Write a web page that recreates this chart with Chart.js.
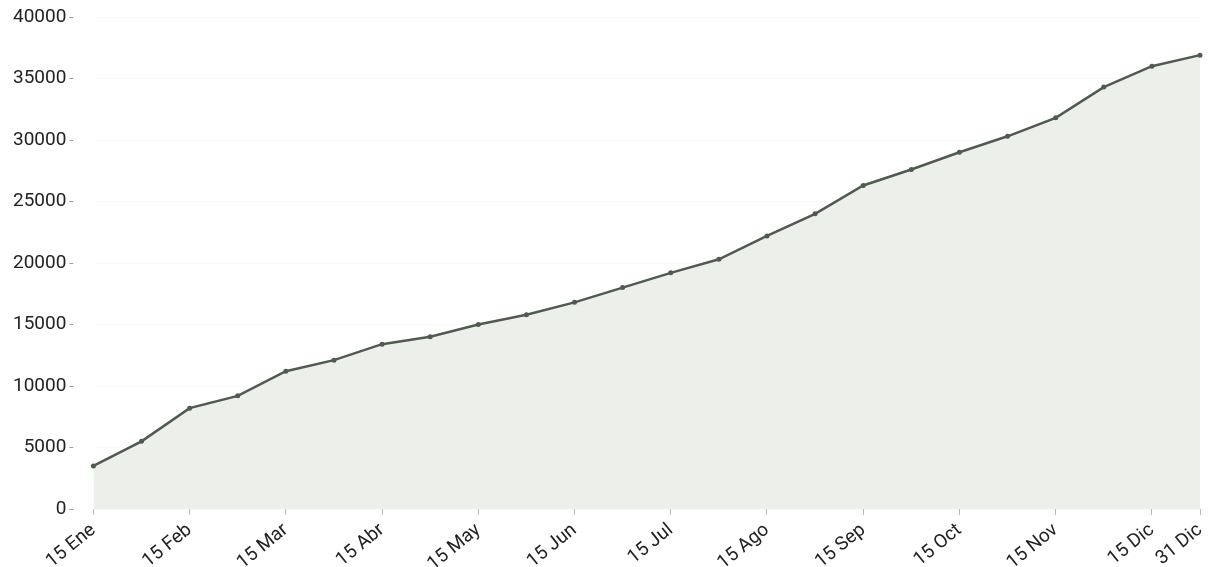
<!DOCTYPE html>
<html>
<head>
<meta charset="utf-8">
<script src="https://cdn.jsdelivr.net/npm/chart.js@4/dist/chart.umd.min.js"></script>
<style>
  html, body { margin: 0; padding: 0; background: #fff; }
  #wrap { width: 1210px; height: 567px; }
</style>
</head>
<body>
<div id="wrap"><canvas id="totalChart"></canvas></div>
<script>
const fechas = [
  "15 Ene", "31 Ene", "15 Feb", "28 Feb", "15 Mar", "31 Mar",
  "15 Abr", "30 Abr", "15 May", "31 May", "15 Jun", "30 Jun",
  "15 Jul", "31 Jul", "15 Ago", "31 Ago", "15 Sep", "30 Sep",
  "15 Oct", "31 Oct", "15 Nov", "30 Nov", "15 Dic", "31 Dic"
];
const totales = [
  3500, 5500, 8200, 9200, 11200, 12100,
  13400, 14000, 15000, 15800, 16800, 18000,
  19200, 20300, 22200, 24000, 26300, 27600,
  29000, 30300, 31800, 34300, 36000, 36900
];
const yMin = 0;
const yMax = 40000;
const yStep = 5000;

const ctx = document.getElementById("totalChart").getContext("2d");
const totalChart = new Chart(ctx, {
  type: "line",
  data: {
    labels: fechas,
    datasets: [{
      data: totales,
      borderColor: "#505b4f",
      backgroundColor: "#edf0ea",
      borderWidth: 2.5,
      fill: "origin",
      tension: 0,
      pointRadius: 2.5,
      pointBackgroundColor: "#505b4f",
      pointBorderWidth: 0
    }]
  },
  options: {
    responsive: true,
    maintainAspectRatio: false,
    animation: false,
    layout: { padding: { left: 10, right: 10, top: 17, bottom: 0 } },
    scales: {
      x: {
        offset: false,
        border: { display: false },
        grid: {
          drawOnChartArea: false,
          tickLength: 6,
          tickColor: "#bdbdbd"
        },
        ticks: {
          autoSkip: false,
          minRotation: 39,
          maxRotation: 39,
          color: "#222",
          font: { family: "Roboto", size: 19 },
          padding: 4,
          // only the 15th of each month plus the last day
          callback: function (value, index) {
            if (index % 2 === 0 || index === fechas.length - 1) return fechas[index];
            return null;
          }
        },
        // the rotated labels fit without the extra room Chart.js keeps
        afterFit: (scale) => {
          scale.paddingRight = 0;
          scale.height = 58;
        }
      },
      y: {
        min: yMin,
        max: yMax,
        border: { display: false },
        grid: {
          color: "rgba(0,0,0,0.02)",
          tickLength: 24,
          tickColor: "#9e9e9e",
          tickBorderDash: [4, 60]
        },
        ticks: {
          stepSize: yStep,
          color: "#222",
          font: { family: "Roboto", size: 19 },
          padding: 3,
          callback: (value) => String(value)
        }
      }
    },
    plugins: {
      legend: { display: false },
      tooltip: { enabled: false }
    }
  }
});
</script>
</body>
</html>
